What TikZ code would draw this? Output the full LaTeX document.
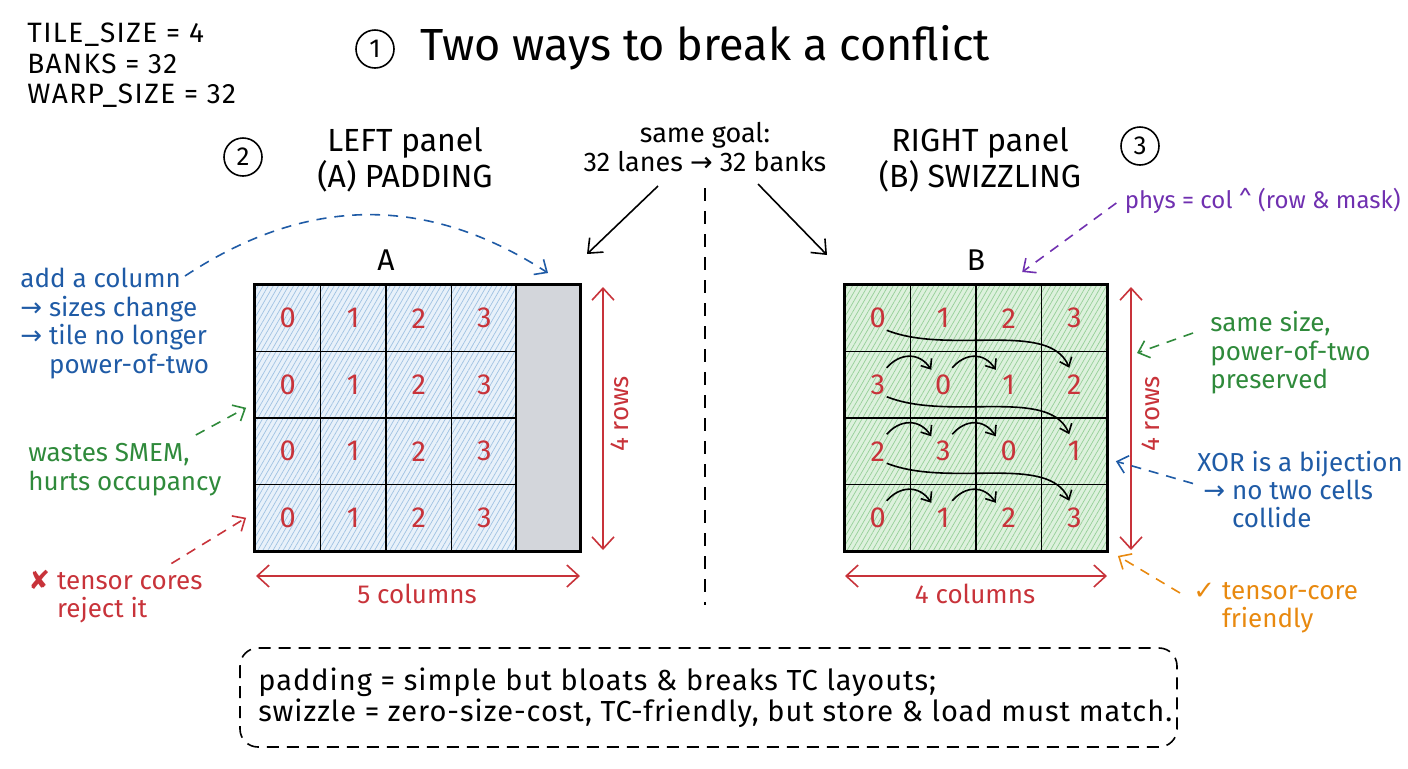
\documentclass[tikz,border=0pt]{standalone}
\usepackage{fontspec}
\setmainfont{Fira Sans}
\newfontfamily\symf{DejaVu Sans}
\usetikzlibrary{arrows.meta,patterns.meta,calc}
\definecolor{cblue}{HTML}{1F5BA6}
\definecolor{cgreen}{HTML}{2F8A3B}
\definecolor{cred}{HTML}{C8333A}
\definecolor{cpurple}{HTML}{7030B0}
\definecolor{corange}{HTML}{E8890F}
\definecolor{hatchblue}{HTML}{A0C2E2}
\definecolor{fillblue}{HTML}{E8F1FA}
\definecolor{hatchgreen}{HTML}{96CF98}
\definecolor{fillgreen}{HTML}{DDF1DD}
\definecolor{padgray}{HTML}{D3D6DB}
\newcommand{\rarr}{{\symf →}}
\begin{document}
\begin{tikzpicture}[x=0.5pt,y=-0.5pt,
  txt/.style={inner sep=0pt, font=\fontsize{13}{14.2}\selectfont, align=left, anchor=west},
  hdr/.style={inner sep=0pt, font=\fontsize{16}{18}\selectfont, align=center},
  numc/.style={circle, draw, line width=0.8pt, minimum size=19pt, inner sep=0pt, font=\fontsize{13}{13}\selectfont},
  cellbase/.style={draw, line width=0.9pt, minimum width=32.75pt, minimum height=33.25pt, inner sep=0pt, text=cred, font=\fontsize{14.5}{14.5}\selectfont},
  cella/.style={cellbase, preaction={fill=fillblue}, preaction={pattern={Lines[angle=60,distance=2.2pt,line width=0.35pt]}, pattern color=hatchblue}},
  cellb/.style={cellbase, preaction={fill=fillgreen}, preaction={pattern={Lines[angle=60,distance=2.2pt,line width=0.35pt]}, pattern color=hatchgreen}},
  dimarr/.style={cred, line width=0.8pt, {Straight Barb[length=6pt,width=11pt]}-{Straight Barb[length=6pt,width=11pt]}},
  annarr/.style={line width=0.8pt, dash pattern=on 5pt off 4pt, -{Straight Barb[length=5pt,width=9pt]}},
  blkarr/.style={line width=0.8pt, -{Straight Barb[length=6pt,width=10pt]}},
  swz/.style={line width=0.8pt, -{Straight Barb[length=4pt,width=6.5pt]}}
]
\useasboundingbox (0,0) rectangle (1408,768);

% constants and title
\node[txt, font=\fontsize{14}{15.25}\selectfont\addfontfeature{LetterSpace=5}] (consts) at (27,65.5) {TILE\_SIZE = 4\\BANKS = 32\\WARP\_SIZE = 32};
\node[numc] (c1) at (375,49) {1};
\node[anchor=west, inner sep=0pt, font=\fontsize{22.5}{22.5}\selectfont] (title) at (420,48) {Two ways to break a conflict};

% headers
\node[numc] (c2) at (243,157) {2};
\node[hdr] (lhdr) at (405,160) {LEFT panel\\(A) PADDING};
\node[hdr] (rhdr) at (980,160) {RIGHT panel\\(B) SWIZZLING};
\node[numc] (c3) at (1140,146) {3};
\node[txt, anchor=center, align=center, font=\fontsize{13.5}{14.5}\selectfont] (goal) at (705,147) {same goal:\\32 lanes \rarr{} 32 banks};

\coordinate (gls) at (658,186);
\coordinate (gle) at (587,254);
\coordinate (grs) at (758,184);
\coordinate (gre) at (827,255);
\draw[blkarr] (gls) -- (gle);
\draw[blkarr] (grs) -- (gre);

\coordinate (divt) at (705,188);
\coordinate (divb) at (705,605);
\draw[line width=0.9pt, dash pattern=on 6.5pt off 5pt] (divt) -- (divb);

% left grid
\foreach \r in {0,...,3}
  \foreach \c in {0,...,3}
    \node[cella] (a\r\c) at ({255+65.5*\c+32.75},{285+66.5*\r+33.25}) {\c};
\node[draw, fill=padgray, line width=0.9pt, minimum width=32pt, minimum height=133pt, inner sep=0pt] (pad) at (548,418) {};
\draw[line width=1.2pt] (a00.north west) rectangle (pad.south east);
\node[font=\fontsize{15}{15}\selectfont] (labA) at (386,260) {A};

% right grid
\foreach \v [count=\c from 0] in {0,1,2,3}
  \node[cellb] (b0\c) at ({845+65.5*\c+32.75},{285+33.25}) {\v};
\foreach \v [count=\c from 0] in {3,0,1,2}
  \node[cellb] (b1\c) at ({845+65.5*\c+32.75},{285+66.5+33.25}) {\v};
\foreach \v [count=\c from 0] in {2,3,0,1}
  \node[cellb] (b2\c) at ({845+65.5*\c+32.75},{285+133+33.25}) {\v};
\foreach \v [count=\c from 0] in {0,1,2,3}
  \node[cellb] (b3\c) at ({845+65.5*\c+32.75},{285+199.5+33.25}) {\v};
\draw[line width=1.2pt] (b00.north west) rectangle (b33.south east);
\node[font=\fontsize{15}{15}\selectfont] (labB) at (976,260) {B};

% swizzle arrows
\foreach \r/\n in {0/1,1/2,2/3}
  \draw[swz] ($(b\r0.center)+(9,12)$) .. controls +(63,25) and +(-20,-48) .. ($(b\n3.center)+(-5,-17)$);
\foreach \r in {1,2,3}{
  \draw[swz] ($(b\r0.center)+(9,-17)$) .. controls +(13,-15) and +(-12,-18) .. ($(b\r1.center)+(-12,-15)$);
  \draw[swz] ($(b\r1.center)+(9,-17)$) .. controls +(13,-15) and +(-12,-18) .. ($(b\r2.center)+(-13,-15)$);
}

% dimension arrows
\coordinate (lvt) at (603,287); \coordinate (lvb) at (603,550);
\coordinate (lhl) at (256,576); \coordinate (lhr) at (580,576);
\coordinate (rvt) at (1131,287); \coordinate (rvb) at (1131,550);
\coordinate (rhl) at (845,576); \coordinate (rhr) at (1107,576);
\draw[dimarr] (lvt) -- (lvb);
\draw[dimarr] (lhl) -- (lhr);
\draw[dimarr] (rvt) -- (rvb);
\draw[dimarr] (rhl) -- (rhr);
\node[txt, anchor=center, rotate=90, text=cred] (lrows) at (620,414) {4 rows};
\node[txt, anchor=center, rotate=90, text=cred] (rrows) at (1151,414) {4 rows};
\node[txt, anchor=center, text=cred] (lcols) at (417,594) {5 columns};
\node[txt, anchor=center, text=cred] (rcols) at (975,594) {4 columns};

% left annotations
\node[txt, text=cblue] (addcol) at (20,323.5) {add a column\\\rarr{} sizes change\\\rarr{} tile no longer\\\phantom{\rarr{}~}power-of-two};
\node[txt, text=cgreen] (waste) at (28,469.5) {wastes SMEM,\\hurts occupancy};
\node[txt, text=cred] (reject) at (28,596.5) {{\symf ✘} tensor cores\\\phantom{{\symf ✘}~}reject it};

\coordinate (bcs) at (185,276);
\coordinate (bce) at (548,273);
\draw[annarr, cblue] (bcs) .. controls (300,200) and (420,190) .. (bce);
\draw[annarr, cgreen] ($(waste.north east)+(-26,-8)$) -- ($(a10.west)+(-8,23)$);
\draw[annarr, cred] ($(reject.north)+(56,-6)$) -- ($(a30.west)+(-8,0)$);

% right annotations
\node[txt, anchor=east, text=cpurple, font=\fontsize{12}{14}\selectfont] (phys) at (1401,201) {phys = col \textasciicircum{} (row \& mask)};
\node[txt, text=cgreen] (same) at (1210,353) {same size,\\power-of-two\\preserved};
\node[txt, text=cblue] (xor) at (1197,489.5) {XOR is a bijection\\\hspace{3pt}\rarr{} no two cells\\\hspace{3pt}\phantom{\rarr{}~}collide};
\node[txt, text=corange] (tcf) at (1193,608) {{\symf ✓} tensor-core\\\phantom{{\symf ✓}~}friendly};

\draw[annarr, cpurple] ($(phys.west)+(-8,2)$) -- ($(labB.east)+(30,12)$);
\draw[annarr, cgreen] ($(same.west)+(-17,-20)$) -- ($(rvt)+(6,66)$);
\draw[annarr, cblue] ($(xor.west)+(-4,-6)$) -- ($(b23.east)+(8,10)$);
\draw[annarr, corange] ($(tcf.west)+(-13,-15)$) -- ($(b33.south east)+(10,4)$);

% summary box
\draw[line width=0.8pt, dash pattern=on 6pt off 4pt, rounded corners=9pt] (240,648) rectangle (1177,747);
\node[txt, font=\fontsize{14.5}{15.5}\selectfont\addfontfeature{LetterSpace=3.4}] (summary) at (258,698) {padding = simple but bloats \& breaks TC layouts;\\swizzle = zero-size-cost, TC-friendly, but store \& load must match.};
\end{tikzpicture}
\end{document}
